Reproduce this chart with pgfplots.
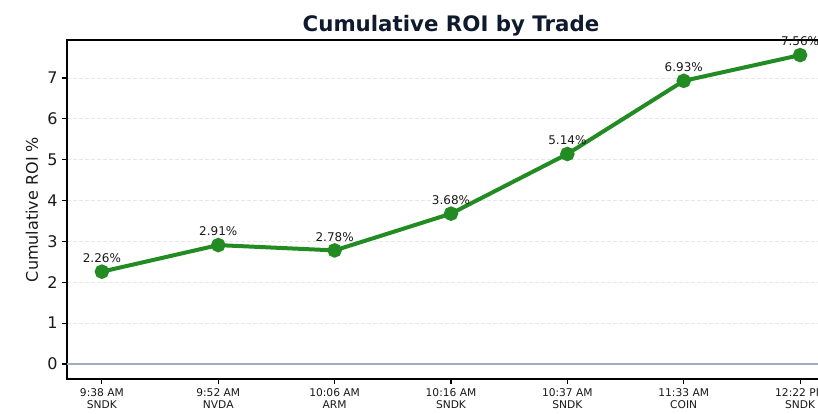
\documentclass[border=0pt]{standalone}
\usepackage{fontspec}
\setmainfont{DejaVu Sans}
\usepackage{pgfplots}
\pgfplotsset{compat=1.18}
\definecolor{roigreen}{HTML}{228B22}
\definecolor{titlenavy}{HTML}{0F1B2D}
\definecolor{zeroline}{HTML}{A0ACC0}
\definecolor{gridgray}{HTML}{E6E6E6}
\begin{document}
\begin{tikzpicture}
\begin{axis}[
  at={(50.25pt,26.25pt)}, anchor=south west,
  scale only axis, width=576pt, height=254.25pt,
  xmin=-0.3, xmax=6.3, ymin=-0.367, ymax=7.93,
  xtick={0,1,2,3,4,5,6},
  xticklabels={{9:38 AM\\SNDK},{9:52 AM\\NVDA},{10:06 AM\\ARM},{10:16 AM\\SNDK},{10:37 AM\\SNDK},{11:33 AM\\COIN},{12:22 PM\\SNDK}},
  x tick label style={align=center, font=\fontsize{8}{9.4}\selectfont, text=black!90},
  ytick={0,1,2,3,4,5,6,7},
  y tick label style={font=\fontsize{12}{14}\selectfont, text=black!90},
  /pgf/number format/assume math mode=true,
  tick align=outside, major tick length=3.5pt,
  xtick pos=lower, ytick pos=left,
  ymajorgrids, grid style={dash pattern=on 3pt off 1.5pt, color=gridgray, line width=0.6pt},
  axis line style={line width=0.8pt},
  every tick/.style={black, line width=0.8pt},
  ylabel={Cumulative ROI \%},
  ylabel style={font=\fontsize{12}{14}\selectfont, at={(axis description cs:-0.0456,0.5)}, anchor=center, text=black!90},
  clip=false,
]
\addplot[zeroline, line width=0.8pt, forget plot] coordinates {(-0.3,0) (6.3,0)};
\addplot[roigreen, line width=3pt, mark=*, mark size=3.9pt, mark options={fill=roigreen, draw=roigreen},
  nodes near coords={\pgfmathprintnumber[fixed,precision=2,fixed zerofill]{\pgfplotspointmeta}\%},
  every node near coord/.append style={font=\fontsize{9}{11}\selectfont, text=black!90, anchor=base, yshift=7pt}]
  coordinates {(0,2.26) (1,2.91) (2,2.78) (3,3.68) (4,5.14) (5,6.93) (6,7.56)};
\node[font=\fontsize{16}{19}\selectfont\bfseries, text=titlenavy, anchor=base] at ([yshift=6pt]axis description cs:0.5,1) {Cumulative ROI by Trade};
\end{axis}
\pgfresetboundingbox
\path[use as bounding box] (0,0) rectangle (613.5pt,310.5pt);
\end{tikzpicture}
\end{document}
